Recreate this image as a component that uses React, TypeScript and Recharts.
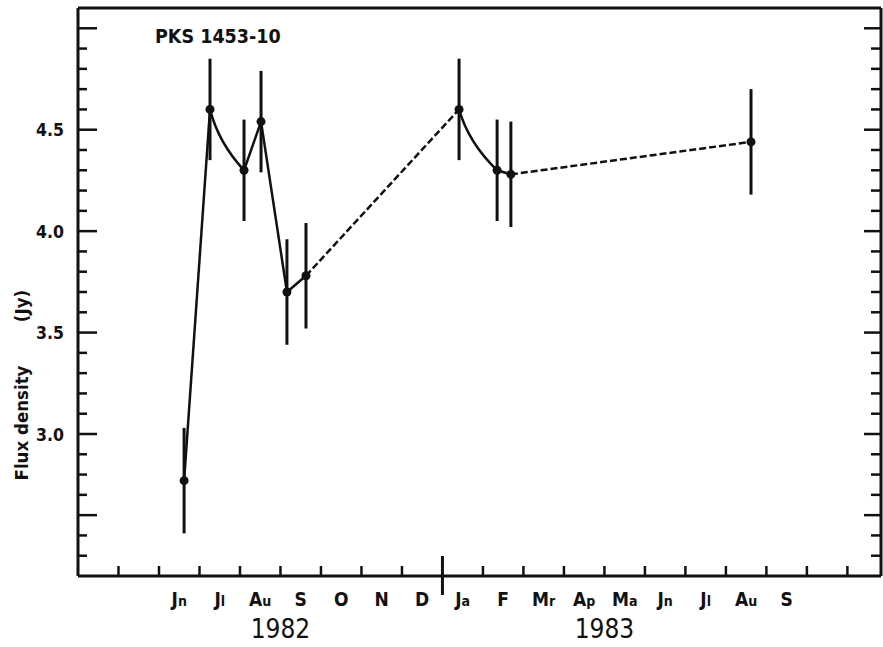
import React from 'react';
import {
  ComposedChart, XAxis, YAxis, Line, Scatter, ErrorBar,
} from 'recharts';

// ---- data (months counted from 1 Apr 1982) ----
const obsMonth = [2.62, 3.26, 4.10, 4.52, 5.16, 5.63, 9.41, 10.35, 10.69, 16.62];
const fluxJy = [2.77, 4.60, 4.30, 4.54, 3.70, 3.78, 4.60, 4.30, 4.28, 4.44];
const fluxErr = [0.26, 0.25, 0.25, 0.25, 0.26, 0.26, 0.25, 0.25, 0.26, 0.26];

// how the points are joined (indices into the arrays above)
const solidSegments = [[0, 1], [2, 3, 4, 5], [7, 8]];
const curvedSegments = [[1, 2], [6, 7]];
const dashedSegments = [[5, 6], [8, 9]];

// ---- axes ----
const monthBoundaries = [1, 2, 3, 4, 5, 6, 7, 8, 9, 10, 11, 12, 13, 14, 15, 16, 17, 18, 19];
const yearBoundary = 9;
const monthLabelPos = [2.5, 3.5, 4.5, 5.5, 6.5, 7.5, 8.5, 9.5, 10.5, 11.5, 12.5, 13.5, 14.5, 15.5, 16.5, 17.5];
const monthLabels = ['Jn', 'Jl', 'Au', 'S', 'O', 'N', 'D', 'Ja', 'F', 'Mr', 'Ap', 'Ma', 'Jn', 'Jl', 'Au', 'S'];
const yearLabelPos = [5, 13];
const yearLabels = ['1982', '1983'];
const xDomain = [0, 19.83];

const yTicks = [2.4, 2.5, 2.6, 2.7, 2.8, 2.9, 3.0, 3.1, 3.2, 3.3, 3.4, 3.5, 3.6, 3.7, 3.8, 3.9, 4.0, 4.1, 4.2, 4.3, 4.4, 4.5, 4.6, 4.7, 4.8, 4.9, 5.0];
const yLabeled = [3.0, 3.5, 4.0, 4.5];
const yLong = [2.6, 3.0, 3.5, 4.0, 4.5, 5.0];
const yDomain = [2.3, 5.1];

const title = 'PKS 1453-10';

const INK = '#111';
const FONT = '"DejaVu Sans Condensed", "DejaVu Sans", sans-serif';

const points = obsMonth.map((t, i) => ({ t, flux: fluxJy[i], err: fluxErr[i] }));
const seg = (idx: number[]) => idx.map((i) => points[i]);

// quadratic "decay" curve between consecutive points
function decayCurve(context: any) {
  let x0 = 0, y0 = 0, n = 0;
  return {
    areaStart() {}, areaEnd() {},
    lineStart() { n = 0; },
    lineEnd() {},
    point(x: number, y: number) {
      if (n === 0) context.moveTo(x, y);
      else context.quadraticCurveTo(x0 + (x - x0) * 0.25, y0 + (y - y0) * 0.55, x, y);
      x0 = x; y0 = y; n++;
    },
  };
}

const XTick = (props: any) => {
  const { x, y, payload } = props;
  const v = payload.value;
  const li = monthLabelPos.indexOf(v);
  if (li >= 0) {
    const lab = monthLabels[li];
    return (
      <text x={x} y={y + 30} textAnchor="middle" fill={INK} fontFamily={FONT} fontWeight="bold" fontSize={19}>
        {lab[0]}
        {lab.length > 1 && <tspan fontSize={14}>{lab.slice(1)}</tspan>}
      </text>
    );
  }
  const isYear = v === yearBoundary;
  const yi = yearLabelPos.indexOf(v);
  return (
    <g>
      <line x1={x} x2={x} y1={isYear ? y - 20 : y} y2={isYear ? y + 19 : y - 10} stroke={INK} strokeWidth={isYear ? 3 : 2.5} />
      {yi >= 0 && (
        <text x={x} y={y + 62} textAnchor="middle" fill={INK} fontFamily={FONT} fontSize={26}>
          {yearLabels[yi]}
        </text>
      )}
    </g>
  );
};

const YTickLeft = (props: any) => {
  const { x, y, payload } = props;
  const v = payload.value;
  const long = yLong.includes(v);
  return (
    <g>
      <line x1={x} x2={x + (long ? 19 : 9)} y1={y} y2={y} stroke={INK} strokeWidth={2.5} />
      {yLabeled.includes(v) && (
        <text x={x - 14} y={y + 6.5} textAnchor="end" fill={INK} fontFamily={FONT} fontWeight="bold" fontSize={17.5}>
          {v.toFixed(1)}
        </text>
      )}
    </g>
  );
};

const YTickRight = (props: any) => {
  const { x, y, payload } = props;
  const v = payload.value;
  const long = yLong.includes(v);
  return <line x1={x} x2={x - (long ? 17 : 10)} y1={y} y2={y} stroke={INK} strokeWidth={2.5} />;
};

const Dot = (props: any) => <circle cx={props.cx} cy={props.cy} r={4.5} fill={INK} />;

export default function App() {
  return (
    <div style={{ position: 'absolute', left: 0, top: 0, background: '#fff' }}>
      <ComposedChart width={883} height={647} margin={{ top: 7, right: 0, bottom: 0, left: 0 }}>
        <XAxis
          xAxisId="b" dataKey="t" type="number" domain={xDomain} allowDataOverflow
          ticks={[...monthBoundaries, ...monthLabelPos].sort((a, b) => a - b)}
          interval={0} height={71} tickSize={0} tickMargin={0} tickLine={false}
          axisLine={{ stroke: INK, strokeWidth: 3 }} tick={<XTick />}
        />
        <XAxis
          xAxisId="top" orientation="top" dataKey="t" type="number" domain={xDomain} allowDataOverflow
          height={1} tick={false} tickLine={false} axisLine={{ stroke: INK, strokeWidth: 3 }}
        />
        <YAxis
          yAxisId="l" dataKey="flux" type="number" domain={yDomain} allowDataOverflow
          ticks={yTicks} interval={0} width={78} tickSize={0} tickMargin={0} tickLine={false}
          axisLine={{ stroke: INK, strokeWidth: 3 }} tick={<YTickLeft />}
        />
        <YAxis
          yAxisId="r" orientation="right" dataKey="flux" type="number" domain={yDomain} allowDataOverflow
          ticks={yTicks} interval={0} width={2} tickSize={0} tickMargin={0} tickLine={false}
          axisLine={{ stroke: INK, strokeWidth: 3 }} tick={<YTickRight />}
        />
        {solidSegments.map((s, i) => (
          <Line key={'s' + i} xAxisId="b" yAxisId="l" data={seg(s)} dataKey="flux" type="linear"
            stroke={INK} strokeWidth={2.5} dot={false} activeDot={false} isAnimationActive={false} />
        ))}
        {curvedSegments.map((s, i) => (
          <Line key={'c' + i} xAxisId="b" yAxisId="l" data={seg(s)} dataKey="flux" type={decayCurve as any}
            stroke={INK} strokeWidth={2.5} dot={false} activeDot={false} isAnimationActive={false} />
        ))}
        {dashedSegments.map((s, i) => (
          <Line key={'d' + i} xAxisId="b" yAxisId="l" data={seg(s)} dataKey="flux" type="linear"
            stroke={INK} strokeWidth={2.5} strokeDasharray="7 3" dot={false} activeDot={false} isAnimationActive={false} />
        ))}
        <Scatter xAxisId="b" yAxisId="l" data={points} dataKey="flux" fill={INK} shape={<Dot />} isAnimationActive={false}>
          <ErrorBar dataKey="err" direction="y" width={0} stroke={INK} strokeWidth={3} />
        </Scatter>
        <text x={155} y={43} fill={INK} fontFamily={FONT} fontWeight="bold" fontSize={19.5}>{title}</text>
        <text transform="translate(28, 423) rotate(-90)" textAnchor="middle" fill={INK} fontFamily={FONT} fontWeight="bold" fontSize={18.5}>Flux density</text>
        <text transform="translate(28, 306) rotate(-90)" textAnchor="middle" fill={INK} fontFamily={FONT} fontWeight="bold" fontSize={18.5}>(Jy)</text>
      </ComposedChart>
    </div>
  );
}
